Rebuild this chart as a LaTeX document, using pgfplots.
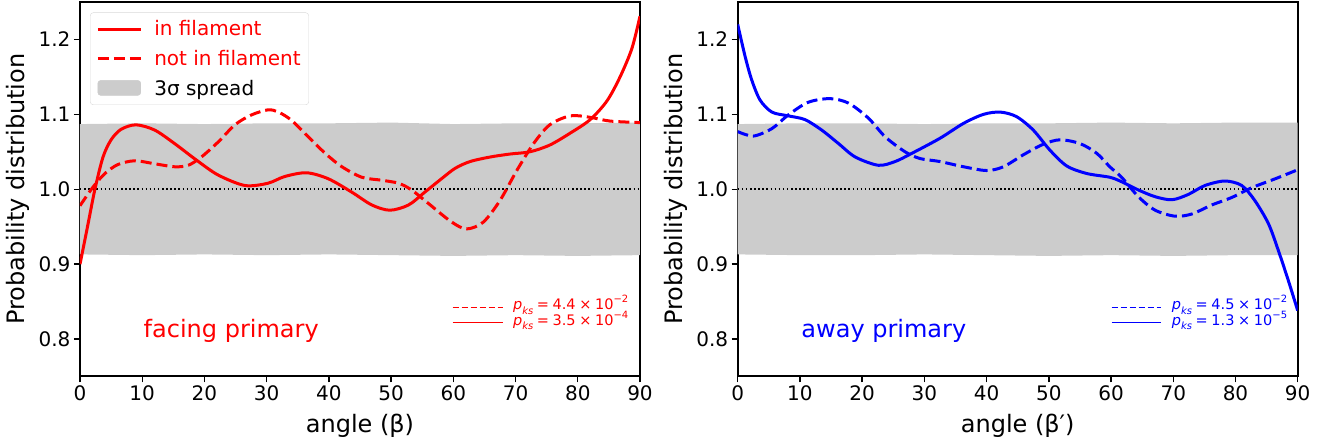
\documentclass[border=0pt]{standalone}
\usepackage{fontspec}
\setmainfont{DejaVu Sans}
\usepackage{pgfplots}
\pgfplotsset{compat=1.18}
\definecolor{bandgray}{HTML}{CCCCCC}
\definecolor{pred}{HTML}{FF0000}
\definecolor{pblue}{HTML}{0000FF}

\newcommand{\pks}[2]{{\itshape p}\raisebox{-0.3em}{\fontsize{10}{10}\selectfont\itshape ks}\hspace{0.25em}=\hspace{0.25em}#1\hspace{0.25em}×\hspace{0.25em}10\raisebox{0.5em}{\fontsize{10}{10}\selectfont #2}}

\pgfplotsset{
  myaxis/.style={
    scale only axis, width=560pt, height=374.5pt,
    xmin=0, xmax=90, ymin=0.75, ymax=1.25,
    xtick={0,10,...,90}, ytick={0.8,0.9,1.0,1.1,1.2},
    y tick label style={/pgf/number format/fixed, /pgf/number format/fixed zerofill, /pgf/number format/precision=1},
    /pgf/number format/assume math mode=true,
    tick pos=left, tick align=outside,
    major tick length=6pt,
    every tick/.style={black, line width=1.4pt},
    axis line style={line width=2pt},
    tick label style={font=\fontsize{20}{20}\selectfont},
    label style={font=\fontsize{24}{24}\selectfont},
    xlabel style={at={(axis description cs:0.5,-0.131)}, anchor=center},
    ylabel style={at={(axis description cs:-0.111,0.5)}, anchor=center},
    unbounded coords=jump,
    solidline/.style={line width=3pt, forget plot, smooth, tension=0.5},
    dashline/.style={line width=3pt, forget plot, smooth, tension=0.5, dash pattern=on 11pt off 5pt},
    keyline/.style={line width=1.6pt, forget plot, line cap=butt},
  }
}

\begin{document}
\begin{tikzpicture}[x=1pt,y=1pt]
\useasboundingbox (0,0) rectangle (1325,443);
% ---------------- left panel ----------------
\begin{axis}[myaxis, at={(80pt,66.5pt)}, anchor=south west,
  xlabel={angle (β)}, ylabel={Probability distribution},
  legend style={at={(axis description cs:0.018,0.972)}, anchor=north west,
    draw=black!15, rounded corners=3pt, fill=white,
    font=\fontsize{20}{20}\selectfont, inner xsep=6pt, inner ysep=6pt,
    row sep=9pt, cells={anchor=west},
    /tikz/every odd column/.append style={column sep=10pt}},
  legend cell align=left,
  legend image code/.code={\draw[#1] (0pt,0pt) -- (43pt,0pt);},
]
\addplot[fill=bandgray, draw=none, forget plot] coordinates {
(0,1.087) (10,1.088) (20,1.087) (30,1.088) (40,1.088) (50,1.089) (60,1.087) (70,1.088) (80,1.088) (90,1.089)
(90,0.912) (80,0.911) (70,0.912) (60,0.911) (50,0.912) (40,0.913) (30,0.912) (20,0.913) (10,0.912) (0,0.913)
} -- cycle;
\addplot[black, line width=1.5pt, dash pattern=on 1.5pt off 2.6pt, forget plot] coordinates {(0,1) (90,1)};
\addplot[pred, dashline] coordinates {
(0,0.978) (2.1,1.003) (4.0,1.021) (6.1,1.033) (8.8,1.038) (12.0,1.034) (15.2,1.030) (17.4,1.032)
(19.5,1.043) (22.2,1.063) (24.9,1.086) (27.5,1.099) (30.2,1.106) (31.9,1.103) (34.0,1.092) (36.7,1.070)
(39.4,1.048) (42.1,1.030) (45.3,1.016) (48.5,1.012) (51.2,1.008) (53.3,0.999) (56.0,0.981) (59.6,0.957)
(62.1,0.947) (64.8,0.956) (67.5,0.985) (70.2,1.025) (72.9,1.061) (75.5,1.086) (78.8,1.098) (82.0,1.096)
(85.2,1.091) (90,1.089)
};
\addplot[pred, solidline] coordinates {
(0,0.900) (1.3,0.954) (2.4,1.000) (3.7,1.043) (5.0,1.066) (6.6,1.080) (9.0,1.086) (12.0,1.079)
(15.2,1.061) (18.7,1.039) (22.2,1.019) (26.5,1.005) (30.2,1.008) (32.9,1.017) (36.4,1.022) (39.9,1.014)
(43.7,0.996) (46.9,0.979) (49.8,0.972) (52.8,0.979) (55.4,0.996) (58.1,1.014) (60.3,1.028) (62.7,1.037)
(65.9,1.043) (69.1,1.047) (72.3,1.050) (75.5,1.059) (78.8,1.075) (82.0,1.093) (84.7,1.118) (86.8,1.150)
(88.7,1.188) (90,1.231)
};
% p_ks key lines (dashed key drawn as separate segments)
\addplot[pred, keyline] coordinates {
(59.90,0.842) (60.86,0.842) (60.86,nan)
(61.35,0.842) (62.31,0.842) (62.31,nan)
(62.79,0.842) (63.75,0.842) (63.75,nan)
(64.24,0.842) (65.20,0.842) (65.20,nan)
(65.68,0.842) (66.64,0.842) (66.64,nan)
(67.13,0.842) (68.00,0.842)
};
\addplot[pred, keyline] coordinates {(59.9,0.822) (68.0,0.822)};
\addlegendimage{pred, line width=3pt}
\addlegendentry{\textcolor{pred}{in filament}}
\addlegendimage{pred, line width=3pt, dash pattern=on 11pt off 5pt}
\addlegendentry{\textcolor{pred}{not in filament}}
\addlegendimage{legend image code/.code={\fill[bandgray] (0pt,-7pt) rectangle (43pt,8pt);}}
\addlegendentry{3σ spread}
\node[pred, font=\fontsize{24}{24}\selectfont] at (axis description cs:0.27,0.123) {facing primary};
\node[pred, anchor=west, inner sep=0pt, font=\fontsize{14.5}{14.5}\selectfont] at (axis description cs:0.773,0.192) {\pks{4.4}{−2}};
\node[pred, anchor=west, inner sep=0pt, font=\fontsize{14.5}{14.5}\selectfont] at (axis description cs:0.773,0.150) {\pks{3.5}{−4}};
\end{axis}
% ---------------- right panel ----------------
\begin{axis}[myaxis, at={(737.7pt,66.5pt)}, anchor=south west,
  xlabel={angle (β′)}, ylabel={Probability distribution}]
\addplot[fill=bandgray, draw=none, forget plot] coordinates {
(0,1.087) (10,1.088) (20,1.088) (30,1.087) (40,1.088) (50,1.088) (60,1.089) (70,1.088) (80,1.089) (90,1.089)
(90,0.912) (80,0.912) (70,0.911) (60,0.912) (50,0.911) (40,0.912) (30,0.913) (20,0.912) (10,0.912) (0,0.913)
} -- cycle;
\addplot[black, line width=1.5pt, dash pattern=on 1.5pt off 2.6pt, forget plot] coordinates {(0,1) (90,1)};
\addplot[pblue, dashline] coordinates {
(0,1.077) (2.5,1.071) (5.5,1.081) (8.1,1.099) (11.3,1.116) (14.8,1.121) (17.8,1.115) (21.0,1.095)
(23.7,1.070) (26.9,1.050) (29.3,1.041) (32.5,1.037) (36.3,1.030) (40.0,1.025) (42.7,1.030) (45.9,1.046)
(49.1,1.060) (51.8,1.066) (55.0,1.061) (57.7,1.048) (59.8,1.030) (61.7,1.016) (64.4,0.990) (67.1,0.972)
(70.3,0.964) (73.0,0.967) (76.2,0.979) (79.4,0.989) (82.6,1.002) (86.4,1.014) (90,1.026)
};
\addplot[pblue, solidline] coordinates {
(0,1.220) (1.2,1.177) (2.25,1.146) (3.6,1.119) (5.5,1.103) (8.1,1.098) (10.8,1.093) (13.5,1.079)
(16.2,1.061) (18.9,1.043) (22.6,1.032) (25.3,1.037) (28.0,1.048) (32.5,1.068) (36.3,1.088) (39.5,1.100)
(42.2,1.103) (44.8,1.097) (47.5,1.079) (50.2,1.052) (52.9,1.031) (56.1,1.021) (59.8,1.016) (61.7,1.010)
(64.4,0.999) (67.1,0.990) (69.8,0.986) (72.4,0.993) (75.1,1.005) (78.3,1.011) (81.0,1.005) (83.1,0.985)
(85.3,0.954) (86.9,0.918) (88.5,0.878) (90,0.838)
};
\addplot[pblue, keyline] coordinates {
(60.10,0.842) (61.06,0.842) (61.06,nan)
(61.55,0.842) (62.51,0.842) (62.51,nan)
(62.99,0.842) (63.95,0.842) (63.95,nan)
(64.44,0.842) (65.40,0.842) (65.40,nan)
(65.88,0.842) (66.84,0.842) (66.84,nan)
(67.33,0.842) (68.10,0.842)
};
\addplot[pblue, keyline] coordinates {(60.1,0.822) (68.1,0.822)};
\node[pblue, font=\fontsize{24}{24}\selectfont] at (axis description cs:0.261,0.123) {away primary};
\node[pblue, anchor=west, inner sep=0pt, font=\fontsize{14.5}{14.5}\selectfont] at (axis description cs:0.775,0.192) {\pks{4.5}{−2}};
\node[pblue, anchor=west, inner sep=0pt, font=\fontsize{14.5}{14.5}\selectfont] at (axis description cs:0.775,0.150) {\pks{1.3}{−5}};
\end{axis}
\end{tikzpicture}
\end{document}
